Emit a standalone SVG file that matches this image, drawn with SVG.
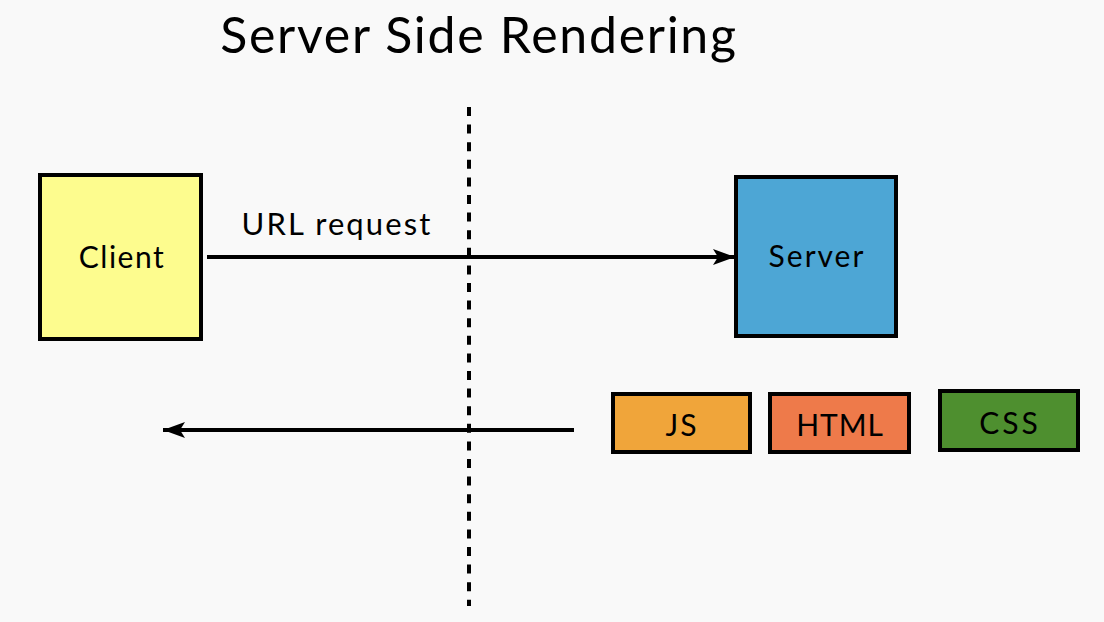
<svg xmlns="http://www.w3.org/2000/svg" width="1104" height="622" viewBox="0 0 1104 622">
<style>
.box{stroke:#000;stroke-width:4}
.lbl{font-family:Lato,"Noto Sans","Liberation Sans",sans-serif;fill:#000;text-anchor:middle}
.conn{stroke:#000;stroke-width:4;fill:none}
</style>
<defs>
<marker id="ah" markerUnits="userSpaceOnUse" markerWidth="24" markerHeight="20" refX="22" refY="10" orient="auto">
<path d="M0,2 L22,10 L0,18 L5,10 Z" fill="#000"/>
</marker>
</defs>
<rect width="1104" height="622" fill="#f9f9f9"/>
<text class="lbl" x="479" y="53" font-size="50" letter-spacing="1.7">Server Side Rendering</text>
<g id="divider">
<line x1="469" y1="107" x2="469" y2="606" stroke="#000" stroke-width="4" stroke-dasharray="9 8.6"/>
</g>
<g id="client">
<rect class="box" x="40" y="175" width="161" height="164" fill="#fdfc8e"/>
<text class="lbl" x="122" y="268" font-size="30" letter-spacing="1.5">Client</text>
</g>
<g id="server">
<rect class="box" x="736" y="177" width="160" height="159" fill="#4da6d5"/>
<text class="lbl" x="817" y="267" font-size="30" letter-spacing="2">Server</text>
</g>
<g id="js">
<rect class="box" x="613" y="394" width="137" height="58" fill="#f0a53a"/>
<text class="lbl" x="682" y="436" font-size="30" letter-spacing="2">JS</text>
</g>
<g id="html">
<rect class="box" x="770" y="394" width="139" height="58" fill="#ee7a4a"/>
<text class="lbl" x="840" y="436" font-size="30" letter-spacing="0.9">HTML</text>
</g>
<g id="css">
<rect class="box" x="940" y="391" width="138" height="59" fill="#4e8f2f"/>
<text class="lbl" x="1010" y="434" font-size="30" letter-spacing="3">CSS</text>
</g>
<g id="connectors">
<line class="conn" x1="207" y1="257" x2="735" y2="257" marker-end="url(#ah)"/>
<text class="lbl" x="337" y="235" font-size="31" letter-spacing="2.1">URL request</text>
<line class="conn" x1="574" y1="430" x2="163" y2="430" marker-end="url(#ah)"/>
</g>
</svg>
